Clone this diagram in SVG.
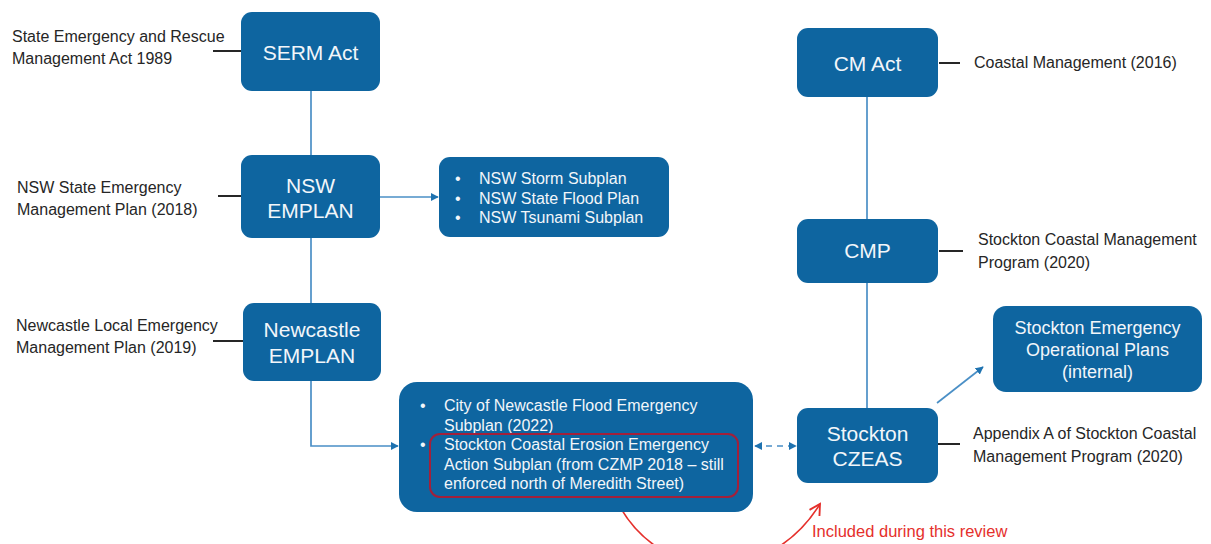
<svg xmlns="http://www.w3.org/2000/svg" width="1211" height="544" viewBox="0 0 1211 544">
<style>
.box{fill:#0e65a0;}
.bt{font-family:"Liberation Sans",Arial,sans-serif;font-size:21px;fill:#f2f6fa;text-anchor:middle;}
.st{font-family:"Liberation Sans",Arial,sans-serif;font-size:16px;fill:#f2f6fa;}
.mt{font-family:"Liberation Sans",Arial,sans-serif;font-size:18px;fill:#f2f6fa;text-anchor:middle;}
.lb{font-family:"Liberation Sans",Arial,sans-serif;font-size:16px;fill:#262626;}
.ll{stroke:#262626;stroke-width:2;fill:none;}
.cn{stroke:#4a8fc6;stroke-width:1.7;fill:none;}
.red{stroke:#e5302c;stroke-width:1.6;fill:none;}
.rt{font-family:"Liberation Sans",Arial,sans-serif;font-size:16.5px;fill:#e5302c;}
</style>
<defs>
<marker id="ah" viewBox="0 0 10 10" refX="9" refY="5" markerWidth="8" markerHeight="8" orient="auto-start-reverse" markerUnits="userSpaceOnUse">
<path d="M0,0 L10,5 L0,10 z" fill="#1f73b0"/>
</marker>
<marker id="rh" viewBox="0 0 12 12" refX="10" refY="6" markerWidth="14" markerHeight="14" orient="auto" markerUnits="userSpaceOnUse">
<path d="M1,1 L10,6 L1,11" fill="none" stroke="#e5302c" stroke-width="1.6"/>
</marker>
</defs>

<g id="connectors">
<path class="cn" d="M311,91 V155"/>
<path class="cn" d="M311,238 V303"/>
<path class="cn" d="M380,197 H438" marker-end="url(#ah)"/>
<path class="cn" d="M311,381 V446 H398" marker-end="url(#ah)"/>
<path class="cn" d="M867,97 V219"/>
<path class="cn" d="M867,283 V408"/>
<path class="cn" d="M755,446 H796" stroke-dasharray="6,5" marker-start="url(#ah)" marker-end="url(#ah)"/>
<path class="cn" d="M937,403 L983,367" marker-end="url(#ah)"/>
<path class="ll" d="M213,51 H241"/>
<path class="ll" d="M218,196 H241"/>
<path class="ll" d="M213,341 H243"/>
<path class="ll" d="M939,63 H960"/>
<path class="ll" d="M939,251 H963"/>
<path class="ll" d="M938,444 H960"/>
<path class="red" d="M620,507 C665,585 770,585 820,504" marker-end="url(#rh)"/>
</g>

<g id="serm">
<rect class="box" x="241" y="12" width="139" height="79" rx="11"/>
<text class="bt" x="310.5" y="59.5">SERM Act</text>
<text class="lb" x="12" y="42">State Emergency and Rescue</text>
<text class="lb" x="12" y="64">Management Act 1989</text>
</g>

<g id="nsw-emplan">
<rect class="box" x="241" y="155" width="139" height="83" rx="11"/>
<text class="bt" x="310.5" y="192.5">NSW</text>
<text class="bt" x="310.5" y="217.5">EMPLAN</text>
<text class="lb" x="17" y="193">NSW State Emergency</text>
<text class="lb" x="17" y="215">Management Plan (2018)</text>
</g>

<g id="nsw-subplans">
<rect class="box" x="439" y="157" width="230" height="80" rx="11"/>
<text class="st" x="455" y="184">•</text>
<text class="st" x="479" y="184">NSW Storm Subplan</text>
<text class="st" x="455" y="204">•</text>
<text class="st" x="479" y="204">NSW State Flood Plan</text>
<text class="st" x="455" y="223">•</text>
<text class="st" x="479" y="223">NSW Tsunami Subplan</text>
</g>

<g id="newcastle-emplan">
<rect class="box" x="243" y="303" width="138" height="78" rx="11"/>
<text class="bt" x="312" y="336.5">Newcastle</text>
<text class="bt" x="312" y="362.5">EMPLAN</text>
<text class="lb" x="16" y="331">Newcastle Local Emergency</text>
<text class="lb" x="16" y="353">Management Plan (2019)</text>
</g>

<g id="local-subplans">
<rect class="box" x="399" y="382" width="354" height="130" rx="18"/>
<text class="st" x="420" y="411">•</text>
<text class="st" x="444" y="411">City of Newcastle Flood Emergency</text>
<text class="st" x="444" y="431">Subplan (2022)</text>
<text class="st" x="420" y="450">•</text>
<text class="st" x="444" y="450">Stockton Coastal Erosion Emergency</text>
<text class="st" x="444" y="470">Action Subplan (from CZMP 2018 – still</text>
<text class="st" x="444" y="489">enforced north of Meredith Street)</text>
<rect x="430" y="434" width="308" height="63" rx="10" fill="none" stroke="#a3203a" stroke-width="2"/>
</g>

<g id="cm-act">
<rect class="box" x="797" y="28" width="141" height="69" rx="11"/>
<text class="bt" x="867.5" y="70.5">CM Act</text>
<text class="lb" x="974" y="68">Coastal Management (2016)</text>
</g>

<g id="cmp">
<rect class="box" x="797" y="219" width="141" height="64" rx="11"/>
<text class="bt" x="867.5" y="257.5">CMP</text>
<text class="lb" x="978" y="245">Stockton Coastal Management</text>
<text class="lb" x="978" y="268">Program (2020)</text>
</g>

<g id="stockton-czeas">
<rect class="box" x="797" y="408" width="141" height="75" rx="11"/>
<text class="bt" x="867.5" y="440.5">Stockton</text>
<text class="bt" x="867.5" y="465.5">CZEAS</text>
<text class="lb" x="973" y="439">Appendix A of Stockton Coastal</text>
<text class="lb" x="973" y="462">Management Program (2020)</text>
</g>

<g id="operational-plans">
<rect class="box" x="993" y="306" width="209" height="86" rx="13"/>
<text class="mt" x="1097.5" y="334">Stockton Emergency</text>
<text class="mt" x="1097.5" y="356">Operational Plans</text>
<text class="mt" x="1097.5" y="378">(internal)</text>
</g>

<g id="review-note">
<text class="rt" x="812" y="537">Included during this review</text>
</g>
</svg>
